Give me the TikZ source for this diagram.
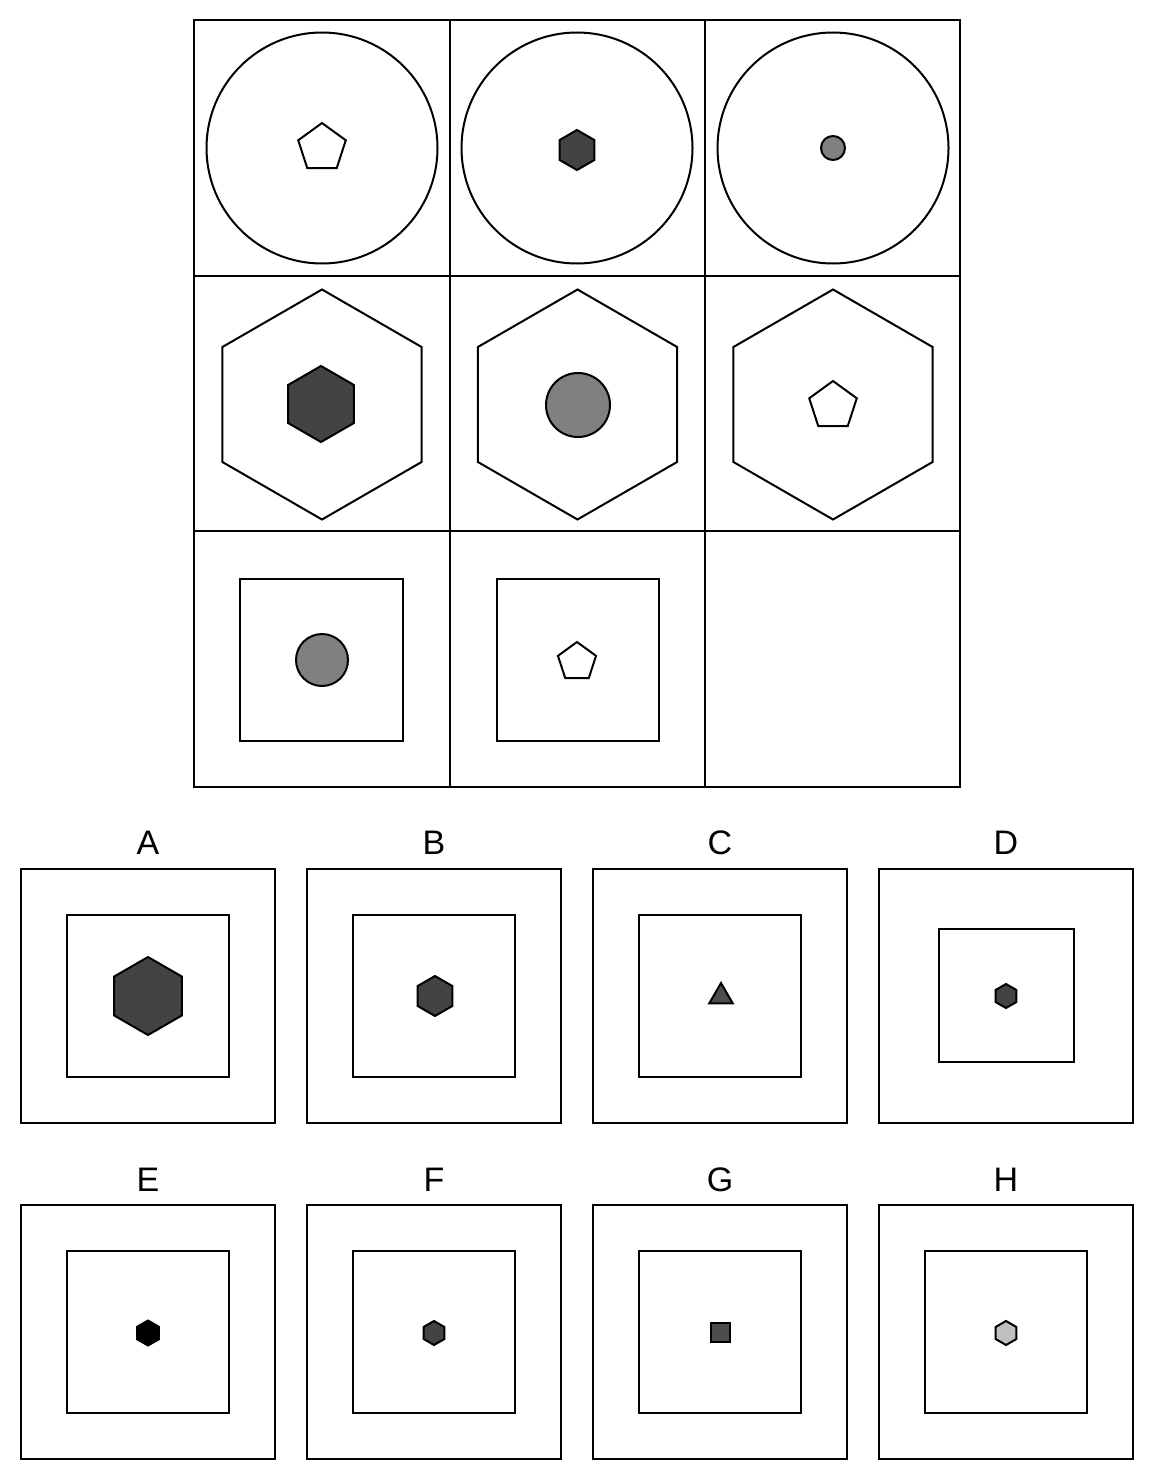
\documentclass[tikz,border=0pt]{standalone}
\usepackage{fontspec}
\setmainfont{Liberation Sans}
\definecolor{dk}{HTML}{434343}
\definecolor{md}{HTML}{808080}
\definecolor{lt}{HTML}{C0C0C0}
\definecolor{dk2}{HTML}{4D4D4D}
\tikzset{
  ln/.style={line width=2pt, draw=black, line join=miter},
  pics/hexa/.style n args={2}{code={\draw[ln, fill=#1] (-90:#2) -- (-30:#2) -- (30:#2) -- (90:#2) -- (150:#2) -- (210:#2) -- cycle;}},
  pics/penta/.style n args={2}{code={\draw[ln, fill=#1] (-90:#2) -- (-18:#2) -- (54:#2) -- (126:#2) -- (198:#2) -- cycle;}},
  pics/tri/.style n args={2}{code={\draw[ln, fill=#1] (-90:#2) -- (30:#2) -- (150:#2) -- cycle;}},
  lbl/.style={font=\fontsize{34}{40}\selectfont, inner sep=0pt}
}
\begin{document}
\begin{tikzpicture}[x=1pt,y=-1pt]
\useasboundingbox (0,0) rectangle (1154,1480);
% grid
\draw[ln] (194,20) rectangle (960,787);
\draw[ln] (449.5,20) -- (449.5,787);
\draw[ln] (705,20) -- (705,787);
\draw[ln] (194,276) -- (960,276);
\draw[ln] (194,531) -- (960,531);
% row 1
\draw[ln] (322,148) circle[radius=115.5pt];
\draw[ln] (577,148) circle[radius=115.5pt];
\draw[ln] (833,148) circle[radius=115.5pt];
\pic at (322,148) {penta={white}{25}};
\pic at (577,150) {hexa={dk}{20}};
\draw[ln, fill=md] (833,148) circle[radius=12pt];
% row 2
\pic at (322,404.5) {hexa={white}{115}};
\pic at (577.5,404.5) {hexa={white}{115}};
\pic at (833,404.5) {hexa={white}{115}};
\pic at (321,404) {hexa={dk}{38}};
\draw[ln, fill=md] (578,405) circle[radius=32pt];
\pic at (833,406) {penta={white}{25}};
% row 3
\draw[ln] (240,579) rectangle (403,741);
\draw[ln] (497,579) rectangle (659,741);
\draw[ln, fill=md] (322,660) circle[radius=26pt];
\pic at (577,662) {penta={white}{20}};
% answer labels
\node[lbl] (la) at (148,843) {A};
\node[lbl] (lb) at (434,843) {B};
\node[lbl] (lc) at (720,843) {C};
\node[lbl] (ld) at (1006,843) {D};
\node[lbl] (le) at (148,1180) {E};
\node[lbl] (lf) at (434,1180) {F};
\node[lbl] (lg) at (720,1180) {G};
\node[lbl] (lh) at (1006,1180) {H};
% answer boxes row 1
\draw[ln] (21,869) rectangle (275,1123);
\draw[ln] (307,869) rectangle (561,1123);
\draw[ln] (593,869) rectangle (847,1123);
\draw[ln] (879,869) rectangle (1133,1123);
\draw[ln] (67,915) rectangle (229,1077);
\draw[ln] (353,915) rectangle (515,1077);
\draw[ln] (639,915) rectangle (801,1077);
\draw[ln] (939,929) rectangle (1074,1062);
\pic at (148,996) {hexa={dk}{39}};
\pic at (435,996) {hexa={dk}{20}};
\pic at (721,996.5) {tri={dk2}{13.5}};
\pic at (1006,996) {hexa={dk}{12}};
% answer boxes row 2
\draw[ln] (21,1205) rectangle (275,1459);
\draw[ln] (307,1205) rectangle (561,1459);
\draw[ln] (593,1205) rectangle (847,1459);
\draw[ln] (879,1205) rectangle (1133,1459);
\draw[ln] (67,1251) rectangle (229,1413);
\draw[ln] (353,1251) rectangle (515,1413);
\draw[ln] (639,1251) rectangle (801,1413);
\draw[ln] (925,1251) rectangle (1087,1413);
\pic at (148,1333) {hexa={black}{12.5}};
\pic at (434,1333) {hexa={dk}{12}};
\draw[ln, fill=dk2] (711,1323) rectangle (730,1342);
\pic at (1006,1333) {hexa={lt}{12}};
\end{tikzpicture}
\end{document}
